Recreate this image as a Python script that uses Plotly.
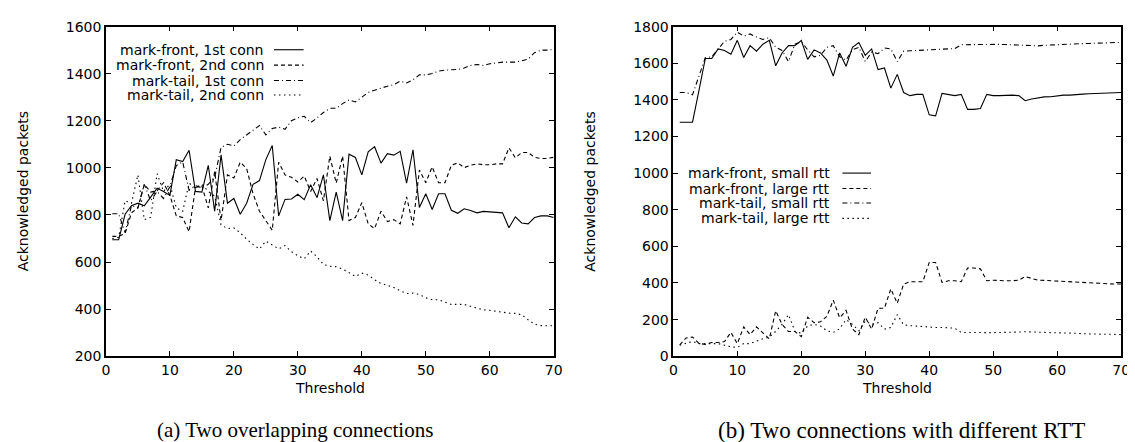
import plotly.graph_objects as go

W, H = 1135, 442

threshold = list(range(1, 71))

# (a) Two overlapping connections
front_1st = [695,695,803,839,850,839,876,914,900,883, 1035,1027,1075,900,897,1011,816,1055,850,870,
             803,850,930,946,1035,1095,796,866,868,888, 865,928,874,970,776,897,776,1058,1044,970,
             1068,1090,1020,1060,1054,1070,935,1077,832,890, 823,890,890,820,807,826,819,809,815,813,
             812,809,746,792,766,762,789,796,796,789]
front_2nd = [709,709,722,809,830,930,897,903,937,883, 796,789,729,917,923,830,984,776,970,957,
             1024,997,890,816,776,735,1024,970,960,940, 965,900,955,860,1050,935,1050,776,789,852,
             762,742,816,772,780,762,877,756,991,937, 1004,937,937,1011,1021,1001,1011,1017,1013,1013,
             1017,1017,1085,1043,1065,1065,1045,1040,1040,1045]
tail_1st = [805,805,725,840,830,930,860,900,870,920, 1010,1025,905,925,915,930,960,1087,1100,1093,
            1120,1140,1160,1180,1140,1167,1173,1164,1200,1213, 1219,1192,1212,1235,1253,1253,1273,1289,1280,1300,
            1320,1330,1340,1347,1354,1368,1361,1374,1395,1395, 1401,1411,1415,1415,1418,1424,1435,1439,1435,1442,
            1446,1449,1449,1449,1455,1462,1489,1500,1500,1503]
tail_2nd = [700,705,860,850,970,780,790,975,900,930, 830,815,935,915,930,900,880,758,742,745,
            724,697,675,655,689,673,656,670,644,627, 614,647,622,590,582,580,570,555,539,553,
            545,525,509,501,492,478,466,468,462,448, 440,440,430,420,420,420,412,405,397,395,
            390,386,383,382,376,355,336,330,329,329]

# (b) Two connections with different RTT
front_small = [1278,1278,1278,1450,1626,1626,1678,1670,1649,1725, 1631,1696,1666,1704,1725,1586,1656,1696,1696,1725,
               1621,1673,1656,1617,1530,1656,1583,1687,1713,1643, 1678,1565,1574,1464,1539,1440,1423,1430,1430,1318,
               1313,1435,1430,1423,1430,1348,1348,1353,1430,1423, 1423,1426,1426,1423,1395,1405,1412,1416,1417,1423,
               1426,1426,1430,1431,1433,1435,1437,1438,1440,1440]
front_large = [62,100,105,70,65,75,75,80,130,69, 160,118,160,130,95,248,174,135,135,107,
               213,183,188,218,306,210,250,148,118,213, 148,262,262,368,289,394,407,407,407,512,
               512,403,412,412,407,482,482,477,412,415, 412,412,412,415,435,426,415,414,412,408,
               407,407,405,401,400,400,398,396,394,394]
tail_small = [1440,1440,1428,1530,1630,1635,1680,1720,1730,1770, 1748,1760,1743,1730,1739,1687,1670,1609,1704,1718,
              1673,1635,1643,1687,1696,1635,1617,1673,1687,1609, 1661,1652,1683,1678,1609,1666,1668,1670,1672,1673,
              1674,1676,1678,1680,1701,1702,1703,1702,1703,1704, 1703,1702,1700,1698,1695,1693,1695,1698,1700,1702,
              1703,1704,1706,1707,1708,1710,1711,1712,1713,1714]
tail_large = [60,69,81,69,69,69,69,60,51,48, 69,69,83,95,104,136,174,227,136,125,
              165,174,165,139,130,150,200,174,139,192, 174,183,148,157,227,171,167,164,160,160,
              157,157,157,153,130,129,129,129,129,129, 129,130,130,132,134,134,132,130,129,129,
              127,125,125,123,121,121,120,120,118,118]

names_a = ["mark-front, 1st conn", "mark-front, 2nd conn", "mark-tail, 1st conn", "mark-tail, 2nd conn"]
names_b = ["mark-front, small rtt", "mark-front, large rtt", "mark-tail, small rtt", "mark-tail, large rtt"]
x_ticks = [0, 10, 20, 30, 40, 50, 60, 70]
y_ticks_a = [200, 400, 600, 800, 1000, 1200, 1400, 1600]
y_ticks_b = [0, 200, 400, 600, 800, 1000, 1200, 1400, 1600, 1800]
captions = ["(a) Two overlapping connections", "(b) Two connections with different RTT"]
x_title = "Threshold"
y_title = "Acknowledged packets"

dashes = ["solid", "4px,3px", "5px,3px,1px,3px", "1.5px,3.5px"]
FONT = "DejaVu Sans"

def px(x):
    return x / W

def py(y):
    return 1 - y / H

fig = go.Figure()
series_a = [front_1st, front_2nd, tail_1st, tail_2nd]
series_b = [front_small, front_large, tail_small, tail_large]
for vals, nm, dsh in zip(series_a, names_a, dashes):
    fig.add_trace(go.Scatter(x=threshold, y=vals, name=nm, mode="lines",
                             line=dict(color="black", width=1.1, dash=dsh),
                             xaxis="x", yaxis="y", showlegend=False))
for vals, nm, dsh in zip(series_b, names_b, dashes):
    fig.add_trace(go.Scatter(x=threshold, y=vals, name=nm, mode="lines",
                             line=dict(color="black", width=1.1, dash=dsh),
                             xaxis="x2", yaxis="y2", showlegend=False))

# plot area pixels
L1, R1 = 95, 548
L2, R2 = 669, 1122
TOP, BOT = 11, 353

axis_common = dict(showline=True, linecolor="black", linewidth=1.5, mirror="allticks",
                   ticks="inside", ticklen=5, tickwidth=1, tickcolor="black",
                   showgrid=False, zeroline=False,
                   tickfont=dict(family=FONT, size=14, color="black"))

fig.update_layout(
    width=W, height=H,
    margin=dict(l=0, r=0, t=0, b=0),
    paper_bgcolor="white", plot_bgcolor="white",
    xaxis=dict(domain=[px(L1), px(R1)], range=[0, 70], tickvals=x_ticks, anchor="y", **axis_common),
    yaxis=dict(domain=[py(BOT), py(TOP)], range=[200, 1600], tickvals=y_ticks_a, anchor="x", **axis_common),
    xaxis2=dict(domain=[px(L2), px(R2)], range=[0, 70], tickvals=x_ticks, anchor="y2", **axis_common),
    yaxis2=dict(domain=[py(BOT), py(TOP)], range=[0, 1800], tickvals=y_ticks_b, anchor="x2", **axis_common),
    showlegend=False,
)

ann = []
shapes = []
# axis titles
for cx in [(L1 + R1) / 2, (L2 + R2) / 2]:
    ann.append(dict(x=px(cx), y=py(386), xref="paper", yref="paper", text=x_title, showarrow=False,
                    xanchor="center", yanchor="middle", font=dict(family=FONT, size=14, color="black")))
for cx in [12, 585]:
    ann.append(dict(x=px(cx), y=py((TOP + BOT) / 2), xref="paper", yref="paper", text=y_title, showarrow=False,
                    textangle=-90, xanchor="center", yanchor="middle",
                    font=dict(family=FONT, size=14, color="black")))
# captions
for cx, cap, fs in zip([286, 900], captions, [21, 23]):
    ann.append(dict(x=px(cx), y=py(430), xref="paper", yref="paper", text=cap, showarrow=False,
                    xanchor="center", yanchor="middle",
                    font=dict(family="Liberation Serif", size=fs, color="black")))

# legends (gnuplot style: text right-aligned, key sample to the right)
leg_specs = [
    (names_a, 257, 265, 295, [35, 51, 67, 82]),
    (names_b, 830, 840, 869, [163, 179, 194, 210]),
]
for names, tx, k0, k1, rows in leg_specs:
    for nm, dsh, ry in zip(names, dashes, rows):
        ann.append(dict(x=px(tx), y=py(ry), xref="paper", yref="paper", text=nm, showarrow=False,
                        xanchor="right", yanchor="middle",
                        font=dict(family=FONT, size=14, color="black")))
        shapes.append(dict(type="line", xref="paper", yref="paper",
                           x0=px(k0), x1=px(k1), y0=py(ry), y1=py(ry),
                           line=dict(color="black", width=1.1, dash=dsh)))

fig.update_layout(annotations=ann, shapes=shapes)
fig.write_html("out.html")
